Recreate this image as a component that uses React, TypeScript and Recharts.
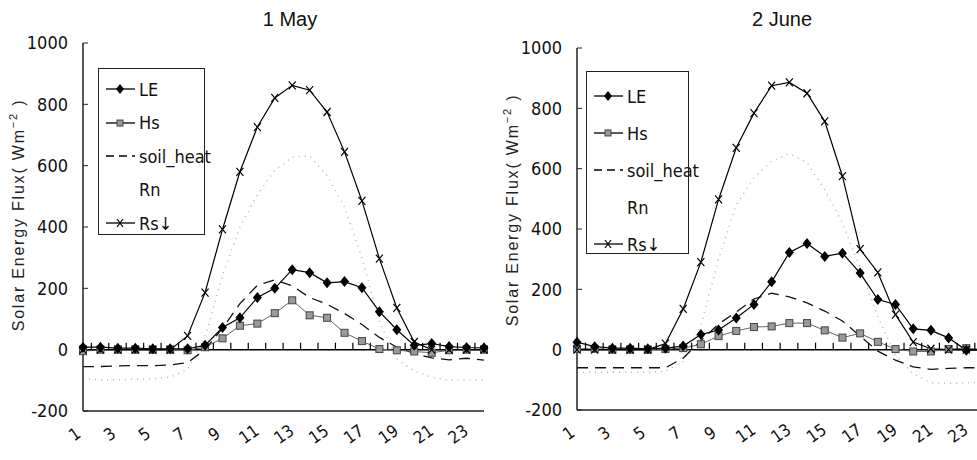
import React from "react";
import { LineChart, Line, XAxis, YAxis, ReferenceLine, Label } from "recharts";

const hours = [1, 2, 3, 4, 5, 6, 7, 8, 9, 10, 11, 12, 13, 14, 15, 16, 17, 18, 19, 20, 21, 22, 23, 24];
const yTicks = [-200, 0, 200, 400, 600, 800, 1000];
const seriesNames = ["LE", "Hs", "soil_heat", "Rn", "Rs↓"];

// 1 May
const mayLE = [8, 8, 5, 5, 3, 3, 3, 14, 72, 104, 170, 200, 261, 251, 218, 222, 202, 124, 65, 14, 20, 10, 7, 6];
const mayHs = [-5, 0, 0, 0, 0, 0, -2, 8, 37, 78, 85, 119, 161, 112, 104, 55, 28, 2, -2, -6, -10, -2, 0, 0];
const maySoil = [-55, -55, -53, -52, -52, -50, -42, 0, 70, 150, 210, 228, 208, 170, 148, 118, 82, 40, 8, -12, -27, -33, -28, -34];
const mayRn = [-95, -98, -98, -96, -95, -90, -65, 40, 242, 400, 505, 585, 628, 632, 568, 465, 300, 90, -30, -70, -90, -100, -100, -98];
const mayRs = [0, 0, 0, 0, 0, 0, 45, 186, 392, 580, 726, 821, 862, 846, 775, 645, 485, 297, 136, 25, 0, 0, 0, 0];

// 2 June
const juneLE = [25, 10, 5, 5, 3, 5, 12, 50, 65, 105, 150, 225, 322, 352, 309, 320, 254, 166, 150, 69, 64, 39, -2, 0];
const juneHs = [3, 3, 0, 0, 0, 2, 5, 18, 45, 62, 75, 77, 88, 88, 64, 40, 54, 26, 2, -6, -6, 2, 5, 0];
const juneSoil = [-60, -60, -60, -60, -60, -60, -28, 30, 85, 125, 168, 187, 175, 155, 128, 95, 45, -5, -35, -57, -65, -62, -60, -60];
const juneRn = [-75, -75, -75, -75, -75, -72, -40, 80, 300, 480, 570, 625, 650, 620, 530, 420, 270, 110, -20, -80, -110, -112, -110, -108];
const juneRs = [0, 0, 0, 0, 0, 20, 135, 290, 498, 669, 784, 875, 886, 850, 757, 575, 333, 256, 116, 25, 3, 0, 0, 0];

const narrow = '"Liberation Sans Narrow", "DejaVu Sans Condensed", Arial, sans-serif';
const sans = '"Liberation Sans", Arial, sans-serif';

function buildRows(le: number[], hs: number[], soil: number[], rn: number[], rs: number[]) {
  return hours.map((h, i) => ({ h, LE: le[i], Hs: hs[i], soil: soil[i], Rn: rn[i], Rs: rs[i], zero: 0 }));
}

const diamondDot = (p: any) => {
  const { cx, cy, index } = p;
  if (cx == null || cy == null) return <g key={`d${index}`} />;
  return <path key={`d${index}`} d={`M${cx},${cy - 5.5}L${cx + 4.5},${cy}L${cx},${cy + 5.5}L${cx - 4.5},${cy}Z`} fill="#000" />;
};

const squareDot = (p: any) => {
  const { cx, cy, index } = p;
  if (cx == null || cy == null) return <g key={`s${index}`} />;
  return <rect key={`s${index}`} x={cx - 3.5} y={cy - 3.5} width={7} height={7} fill="#9a9a9a" stroke="#444" strokeWidth={1} />;
};

const crossDot = (p: any) => {
  const { cx, cy, index } = p;
  if (cx == null || cy == null) return <g key={`x${index}`} />;
  return (
    <path key={`x${index}`} d={`M${cx - 3.5},${cy - 4}L${cx + 3.5},${cy + 4}M${cx + 3.5},${cy - 4}L${cx - 3.5},${cy + 4}`} stroke="#000" strokeWidth={1.2} />
  );
};

// small upward ticks along the zero line, one at each hour boundary
const zeroTick = (half: number) => (p: any) => {
  const { cx, cy, index } = p;
  if (cx == null || cy == null || index >= hours.length - 1) return <g key={`z${index}`} />;
  return <line key={`z${index}`} x1={cx + half} x2={cx + half} y1={cy} y2={cy - 7} stroke="#000" strokeWidth={1.2} />;
};

const HourTick = (p: any) => {
  const { x, y, payload } = p;
  return (
    <text x={x - 5} y={y + 26} textAnchor="middle" fontFamily={narrow} fontSize={17} fill="#111" transform={`rotate(-35 ${x - 5} ${y + 26})`}>
      {payload.value}
    </text>
  );
};

function LegendIcon({ kind }: { kind: number }) {
  const cx = 17;
  const cy = 8;
  return (
    <svg width={34} height={16} style={{ display: "block" }}>
      {kind === 2 ? (
        <line x1={3} x2={32} y1={cy} y2={cy} stroke="#000" strokeWidth={1.3} strokeDasharray="8 5" />
      ) : kind === 3 ? null : (
        <line x1={3} x2={32} y1={cy} y2={cy} stroke="#000" strokeWidth={1.3} />
      )}
      {kind === 0 && <path d={`M${cx},${cy - 5}L${cx + 4},${cy}L${cx},${cy + 5}L${cx - 4},${cy}Z`} fill="#000" />}
      {kind === 1 && <rect x={cx - 3} y={cy - 3} width={6} height={6} fill="#9a9a9a" stroke="#444" />}
      {kind === 4 && <path d={`M${cx - 3},${cy - 4}L${cx + 3},${cy + 4}M${cx + 3},${cy - 4}L${cx - 3},${cy + 4}`} stroke="#000" strokeWidth={1.2} />}
    </svg>
  );
}

function LegendBox({ left, top, width, height, first, step }: any) {
  return (
    <div style={{ position: "absolute", left, top, width, height, border: "1.5px solid #222", background: "#fff", boxSizing: "border-box" }}>
      {seriesNames.map((name, i) => (
        <div key={name} style={{ position: "absolute", left: 4, top: first + i * step - 10, height: 20, display: "flex", alignItems: "center" }}>
          <LegendIcon kind={i} />
          <span style={{ fontFamily: narrow, fontSize: 18, color: "#111", marginLeft: 2 }}>{name}</span>
        </div>
      ))}
    </div>
  );
}

function Panel(props: any) {
  const { rows, title, titleX, chartLeft, width, yAxisWidth, margin, xAxisHeight, half, labelX, labelY, legend } = props;
  return (
    <>
      <div style={{ position: "absolute", left: titleX - 60, top: 8, width: 120, textAlign: "center", fontFamily: sans, fontSize: 20, color: "#111" }}>
        {title}
      </div>
      <div style={{ position: "absolute", left: chartLeft, top: 0 }}>
        <LineChart width={width} height={460} data={rows} margin={margin}>
          <XAxis dataKey="h" type="category" interval={1} height={xAxisHeight} tickLine={false} tickSize={0} tick={<HourTick />} axisLine={{ stroke: "#222", strokeWidth: 1.5 }} />
          <XAxis xAxisId="t" dataKey="h" orientation="top" height={0} tick={false} tickLine={false} axisLine={{ stroke: "#222", strokeWidth: 1.5 }} />
          <YAxis
            type="number"
            domain={[-200, 1000]}
            ticks={yTicks}
            width={yAxisWidth}
            tickSize={-5}
            tickMargin={20}
            tickLine={{ stroke: "#222" }}
            axisLine={{ stroke: "#222", strokeWidth: 1.5 }}
            tick={{ fontFamily: narrow, fontSize: 18, fill: "#111" }}
            allowDataOverflow
          >
            <Label
              content={() => (
                <text x={labelX} y={labelY} transform={`rotate(-90 ${labelX} ${labelY})`} textAnchor="middle" fontFamily={sans} fontSize={16} letterSpacing={1.8} fill="#222">
                  Solar Energy Flux( Wm
                  <tspan dy={-7} fontSize={11}>−2</tspan>
                  <tspan dy={7}> )</tspan>
                </text>
              )}
            />
          </YAxis>
          <YAxis yAxisId="r" orientation="right" domain={[-200, 1000]} width={0} tick={false} tickLine={false} axisLine={{ stroke: "#222", strokeWidth: 1.5 }} />
          <ReferenceLine y={0} stroke="#000" strokeWidth={1.5} />
          <Line dataKey="zero" stroke="none" dot={zeroTick(half)} activeDot={false} isAnimationActive={false} />
          <Line dataKey="Rn" stroke="#b5b5b5" strokeWidth={1.5} strokeDasharray="1 5" dot={false} isAnimationActive={false} />
          <Line dataKey="soil" stroke="#111" strokeWidth={1.3} strokeDasharray="11 7" dot={false} isAnimationActive={false} />
          <Line dataKey="Hs" stroke="#666" strokeWidth={1} dot={squareDot} isAnimationActive={false} />
          <Line dataKey="LE" stroke="#000" strokeWidth={1.2} dot={diamondDot} isAnimationActive={false} />
          <Line dataKey="Rs" stroke="#000" strokeWidth={1.2} dot={crossDot} isAnimationActive={false} />
        </LineChart>
      </div>
      <LegendBox {...legend} />
    </>
  );
}

export default function App() {
  const mayRows = buildRows(mayLE, mayHs, maySoil, mayRn, mayRs);
  const juneRows = buildRows(juneLE, juneHs, juneSoil, juneRn, juneRs);
  return (
    <div style={{ position: "absolute", left: 0, top: 0, width: 977, height: 460, overflow: "hidden", background: "#fff" }}>
      <Panel
        rows={mayRows}
        title="1 May"
        titleX={290}
        chartLeft={0}
        width={490}
        yAxisWidth={83}
        margin={{ top: 43, right: 6, bottom: 0, left: 0 }}
        xAxisHeight={49}
        half={8.35}
        labelX={24}
        labelY={215}
        legend={{ left: 98, top: 68, width: 107, height: 167, first: 20, step: 33.5 }}
      />
      <Panel
        rows={juneRows}
        title="2 June"
        titleX={782}
        chartLeft={487}
        width={500}
        yAxisWidth={90}
        margin={{ top: 48, right: 3, bottom: 0, left: 0 }}
        xAxisHeight={50}
        half={8.5}
        labelX={31}
        labelY={210}
        legend={{ left: 586, top: 71, width: 103, height: 183, first: 24, step: 37 }}
      />
    </div>
  );
}
